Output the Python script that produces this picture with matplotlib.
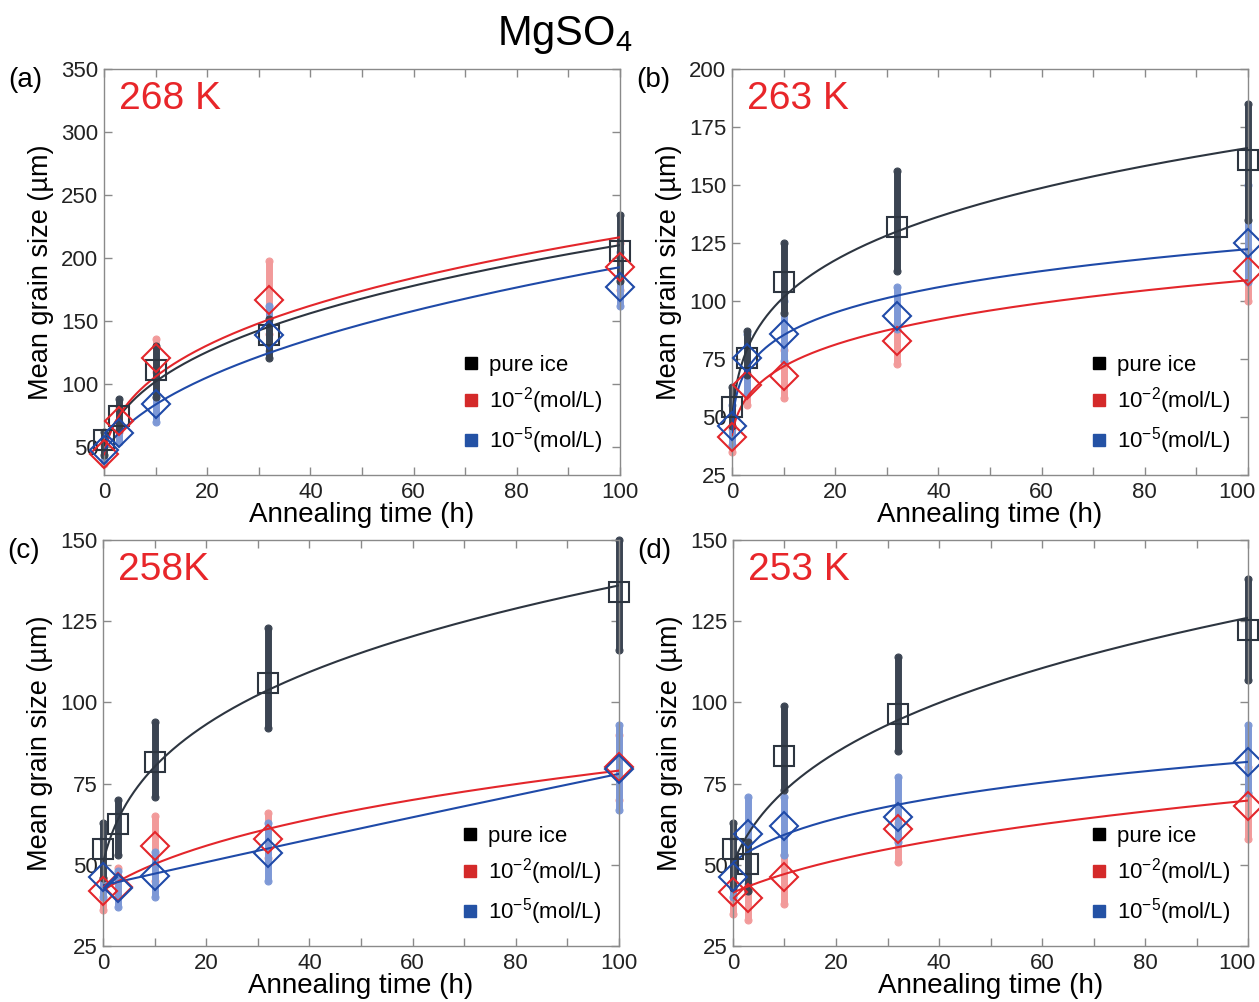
import numpy as np
import matplotlib
matplotlib.use("Agg")
import matplotlib.pyplot as plt
from matplotlib.lines import Line2D
from matplotlib.ticker import MultipleLocator
from matplotlib.transforms import ScaledTranslation

plt.rcParams['font.family'] = ['Liberation Sans', 'DejaVu Sans']
plt.rcParams['mathtext.fontset'] = 'custom'
plt.rcParams['mathtext.rm'] = 'Liberation Sans'
plt.rcParams['mathtext.it'] = 'Liberation Sans:italic'

# --- Données ---
hours = [0, 3, 10, 32, 100]
temps = ['268 K', '263 K', '258K', '253 K']
panels = ['(a)', '(b)', '(c)', '(d)']
y_limits = [(28, 350), (25, 200), (25, 150), (25, 150)]
y_steps = [50, 25, 25, 25]
labels = ['pure ice', r'10$^{-2}$(mol/L)', r'10$^{-5}$(mol/L)']

# taille moyenne des grains (µm) : glace pure, 1e-2 mol/L, 1e-5 mol/L
pure_mean = [[55.5, 75, 111, 139, 206], [54.3, 75.4, 108, 132, 161],
             [55, 62.6, 81.5, 106, 134], [54.9, 50.2, 83.5, 96.4, 122.3]]
hi_mean = [[45, 71, 121, 167, 193], [41.4, 63.8, 67.7, 82.8, 113],
           [42, 43.2, 55.9, 58, 80.2], [41.6, 39.8, 46.2, 61, 68]]
lo_mean = [[47.6, 61, 84, 139, 177], [46, 75.4, 85.8, 93.5, 125],
           [46.3, 42.9, 46.6, 53.7, 79.5], [46.2, 59.5, 62, 64.7, 81.6]]

# étendue des grains mesurés (min, max)
pure_min = [[44, 64, 90, 121, 182], [46, 68, 95, 113, 135],
            [46, 53, 71, 92, 116], [43, 42, 73, 85, 107]]
pure_max = [[62, 88, 130, 152, 234], [63, 87, 125, 156, 185],
            [63, 70, 94, 123, 150], [63, 57, 99, 114, 138]]
hi_min = [[37, 62, 110, 140, 175], [35, 55, 58, 73, 100],
          [36, 40, 45, 52, 70], [35, 33, 38, 51, 58]]
hi_max = [[52, 82, 136, 198, 212], [45, 69, 79, 90, 122],
          [46, 49, 65, 66, 90], [44, 42, 53, 63, 80]]
lo_min = [[40, 54, 70, 126, 162], [38, 60, 74, 88, 108],
          [40, 37, 40, 45, 67], [40, 44, 53, 57, 72]]
lo_max = [[56, 70, 104, 162, 205], [55, 86, 100, 106, 150],
          [58, 48, 54, 63, 93], [58, 71, 71, 77, 93]]

# valeurs de la courbe d'ajustement aux mêmes instants
pure_fit = [[50, 79, 108, 140, 211], [48, 83, 100, 130, 166],
            [50, 66, 79, 104, 136], [50.5, 59, 72.4, 95, 126]]
hi_fit = [[44, 78, 110, 148, 217], [42, 61, 71.5, 88, 109],
          [42, 45, 50.3, 61, 79], [41.7, 43.3, 46.3, 56, 69.7]]
lo_fit = [[46, 64, 84, 124, 193], [44, 73, 85, 102, 122.4],
          [43.5, 45, 47.2, 55, 78], [50.5, 54.5, 59.2, 68.4, 81.7]]

# positions des axes (gauche, bas, largeur, hauteur)
boxes = [(0.0826, 0.5259, 0.4099, 0.4052), (0.5814, 0.5259, 0.4099, 0.4052),
         (0.0818, 0.0559, 0.4099, 0.4052), (0.5822, 0.0559, 0.4091, 0.4052)]

LINE = ['#2d3540', '#e3262b', '#1f4aa8']
DOTS = ['#3b4452', '#f29a9a', '#7d98d6']
LEG = ['#000000', '#d42a2a', '#2452a5']
GRIS = '#8a8a8a'


def courbe_croissance(t_obs, d_obs, t):
    # loi de croissance d^n - d0^n = k t, n choisi par moindres carrés
    t_obs = np.asarray(t_obs, float)
    d_obs = np.asarray(d_obs, float)
    A = np.vstack([np.ones_like(t_obs), t_obs]).T
    best = None
    for n in np.linspace(0.3, 8, 500):
        c, k = np.linalg.lstsq(A, d_obs**n, rcond=None)[0]
        if c <= 0 or k <= 0:
            continue
        pred = (c + k * t_obs)**(1 / n)
        err = np.sum((pred - d_obs)**2)
        if best is None or err < best[0]:
            best = (err, n, c, k)
    _, n, c, k = best
    return (c + k * t)**(1 / n)


fig = plt.figure(figsize=(12.59, 10.02), dpi=100)
t = np.linspace(0, 100, 400)

for i in range(4):
    ax = fig.add_axes(boxes[i])
    means = [pure_mean[i], hi_mean[i], lo_mean[i]]
    mins = [pure_min[i], hi_min[i], lo_min[i]]
    maxs = [pure_max[i], hi_max[i], lo_max[i]]
    fits = [pure_fit[i], hi_fit[i], lo_fit[i]]

    # colonnes de grains individuels
    for s in [1, 2, 0]:
        ax.vlines(hours, mins[s], maxs[s], colors=DOTS[s], lw=5,
                  capstyle='round', zorder=2, clip_on=False)
        for ends in (mins[s], maxs[s]):
            ax.plot(hours, ends, 'o', ms=5, mfc='none', mec=DOTS[s],
                    mew=0.8, ls='none', zorder=2, clip_on=False)

    # courbes ajustées
    for s in [0, 1, 2]:
        ax.plot(t, courbe_croissance(hours, fits[s], t), color=LINE[s],
                lw=1.5, zorder=3)

    # moyennes
    ax.plot(hours, means[0], 's', ms=15, mfc='none', mec=LINE[0], mew=1.5,
            ls='none', zorder=4, clip_on=False)
    ax.plot(hours, means[1], 'D', ms=14, mfc='none', mec=LINE[1], mew=1.5,
            ls='none', zorder=4, clip_on=False)
    ax.plot(hours, means[2], 'D', ms=14, mfc='none', mec=LINE[2], mew=1.5,
            ls='none', zorder=4, clip_on=False)

    # axes
    ax.set_xlim(0, 100)
    ax.set_ylim(*y_limits[i])
    ax.set_xticks([0, 20, 40, 60, 80, 100])
    ax.xaxis.set_minor_locator(MultipleLocator(10))
    ax.yaxis.set_major_locator(MultipleLocator(y_steps[i]))
    ax.tick_params(which='both', direction='in', top=True, right=True,
                   length=6, width=1, color=GRIS, labelsize=16,
                   labelcolor='#222222')
    ax.tick_params(axis='x', pad=5)
    ax.tick_params(axis='y', pad=4)
    for sp in ax.spines.values():
        sp.set_color(GRIS)
        sp.set_linewidth(1)
    ax.set_xlabel('Annealing time (h)', fontsize=20, labelpad=-1)
    ax.set_ylabel('Mean grain size (µm)', fontsize=19.5, labelpad=5)

    # le dernier libellé des panneaux de droite est décalé vers la gauche
    if i in (1, 3):
        last = ax.get_xticklabels()[-1]
        last.set_transform(last.get_transform() +
                           ScaledTranslation(-8 / 72, 0, fig.dpi_scale_trans))

    ax.text(0.03, 0.925, temps[i], transform=ax.transAxes, color='#e8262a',
            fontsize=28, va='center', ha='left')
    ax.text(-0.153, 0.972, panels[i], transform=ax.transAxes, fontsize=20,
            va='center', ha='center')

    # --- Légende ---
    handles = [Line2D([0], [0], marker='s', ls='none', ms=8, mfc=LEG[s],
                      mec=LEG[s], label=labels[s]) for s in range(3)]
    ax.legend(handles=handles, loc='lower right', bbox_to_anchor=(0.995, 0.008),
              frameon=False, fontsize=16, labelspacing=0.42,
              handletextpad=0.3, handlelength=1.0, borderpad=0.2)

fig.text(0.449, 0.965, r'MgSO$_4$', fontsize=30, ha='center', va='center')

fig.savefig('out.png', dpi=100)
